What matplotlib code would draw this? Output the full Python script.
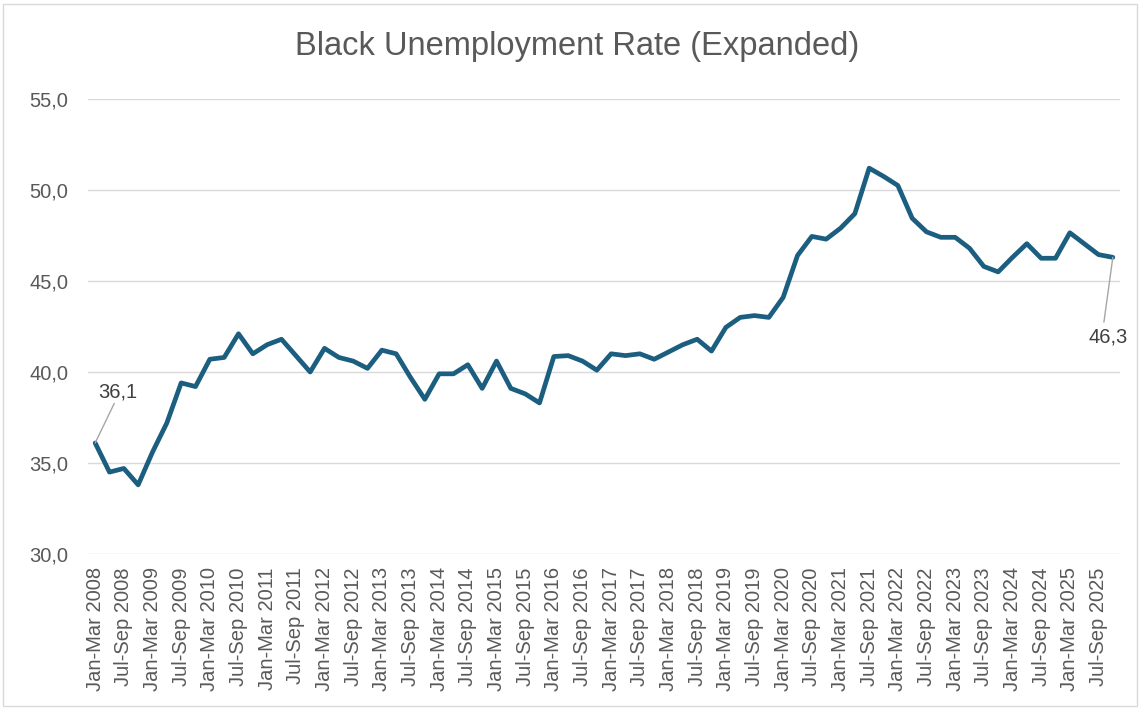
import matplotlib
matplotlib.use("Agg")
import matplotlib.pyplot as plt
from matplotlib.patches import Rectangle

years = list(range(2008, 2026))
quarters = ["Jan-Mar", "Apr-Jun", "Jul-Sep", "Oct-Dec"]
periods = [f"{q} {y}" for y in years for q in quarters]

rate = [
    36.1, 34.5, 34.7, 33.8, 35.6, 37.2, 39.4, 39.2,   # 2008-2009
    40.7, 40.8, 42.1, 41.0, 41.5, 41.8, 40.9, 40.0,   # 2010-2011
    41.3, 40.8, 40.6, 40.2, 41.2, 41.0, 39.7, 38.5,   # 2012-2013
    39.9, 39.9, 40.4, 39.1, 40.6, 39.1, 38.8, 38.3,   # 2014-2015
    40.85, 40.9, 40.6, 40.1, 41.0, 40.9, 41.0, 40.7,  # 2016-2017
    41.1, 41.5, 41.8, 41.15, 42.45, 43.0, 43.1, 43.0, # 2018-2019
    44.1, 46.4, 47.45, 47.3, 47.9, 48.7, 51.2, 50.75, # 2020-2021
    50.25, 48.45, 47.7, 47.4, 47.4, 46.8, 45.8, 45.5, # 2022-2023
    46.3, 47.05, 46.25, 46.25, 47.65, 47.05, 46.45, 46.3,  # 2024-2025
]

title = "Black Unemployment Rate (Expanded)"
yticks = [30, 35, 40, 45, 50, 55]

W, H = 1141, 709
fig = plt.figure(figsize=(W / 100, H / 100), dpi=100)
fig.patch.set_facecolor("white")
fig.patches.append(Rectangle((3 / W, 3 / H), 1 - 7 / W, 1 - 7 / H,
                             transform=fig.transFigure, fill=False,
                             edgecolor="#D9D9D9", linewidth=1))

ax = fig.add_axes([88 / W, 1 - 554 / H, (1120 - 88) / W, (554 - 99) / H])
x = list(range(len(rate)))
ax.plot(x, rate, color="#1B5E80", linewidth=3.4, solid_joinstyle="round",
        solid_capstyle="round", zorder=3)

ax.set_xlim(-0.5, len(rate) - 0.5)
ax.set_ylim(30, 55)
ax.set_yticks(yticks)
ax.set_yticklabels([f"{v:.1f}".replace(".", ",") for v in yticks])
ax.set_xticks(x[::2])
ax.set_xticklabels(periods[::2], rotation=90)
ax.grid(axis="y", color="#D9D9D9", linewidth=1)
ax.set_axisbelow(True)
for s in ax.spines.values():
    s.set_visible(False)
ax.tick_params(axis="both", length=0, colors="#595959", labelsize=14.5)
ax.tick_params(axis="y", pad=14)
ax.tick_params(axis="x", pad=9.5)
for lab in ax.get_xticklabels() + ax.get_yticklabels():
    lab.set_fontfamily("Liberation Sans")

fig.text(577 / W, 1 - 47 / H, title, ha="center", va="center",
         fontsize=23.5, color="#595959", family="Liberation Sans")

# data labels with leader lines
first, last = 0, len(rate) - 1
ax.annotate(f"{rate[first]:.1f}".replace(".", ","), xy=(first, rate[first]),
            xytext=(23, 51), textcoords="offset pixels", ha="center", va="center",
            fontsize=14.5, color="#404040", family="Liberation Sans",
            arrowprops=dict(arrowstyle="-", color="#A6A6A6", lw=1,
                            patchA=None, relpos=(0.4, -0.1),
                            shrinkA=0, shrinkB=0))
ax.annotate(f"{rate[last]:.1f}".replace(".", ","), xy=(last, rate[last]),
            xytext=(-5, -80), textcoords="offset pixels", ha="center", va="center",
            fontsize=14.5, color="#404040", family="Liberation Sans",
            arrowprops=dict(arrowstyle="-", color="#A6A6A6", lw=1,
                            patchA=None, relpos=(0.4, 1.3),
                            shrinkA=0, shrinkB=0))

fig.savefig("out.png", dpi=100)
